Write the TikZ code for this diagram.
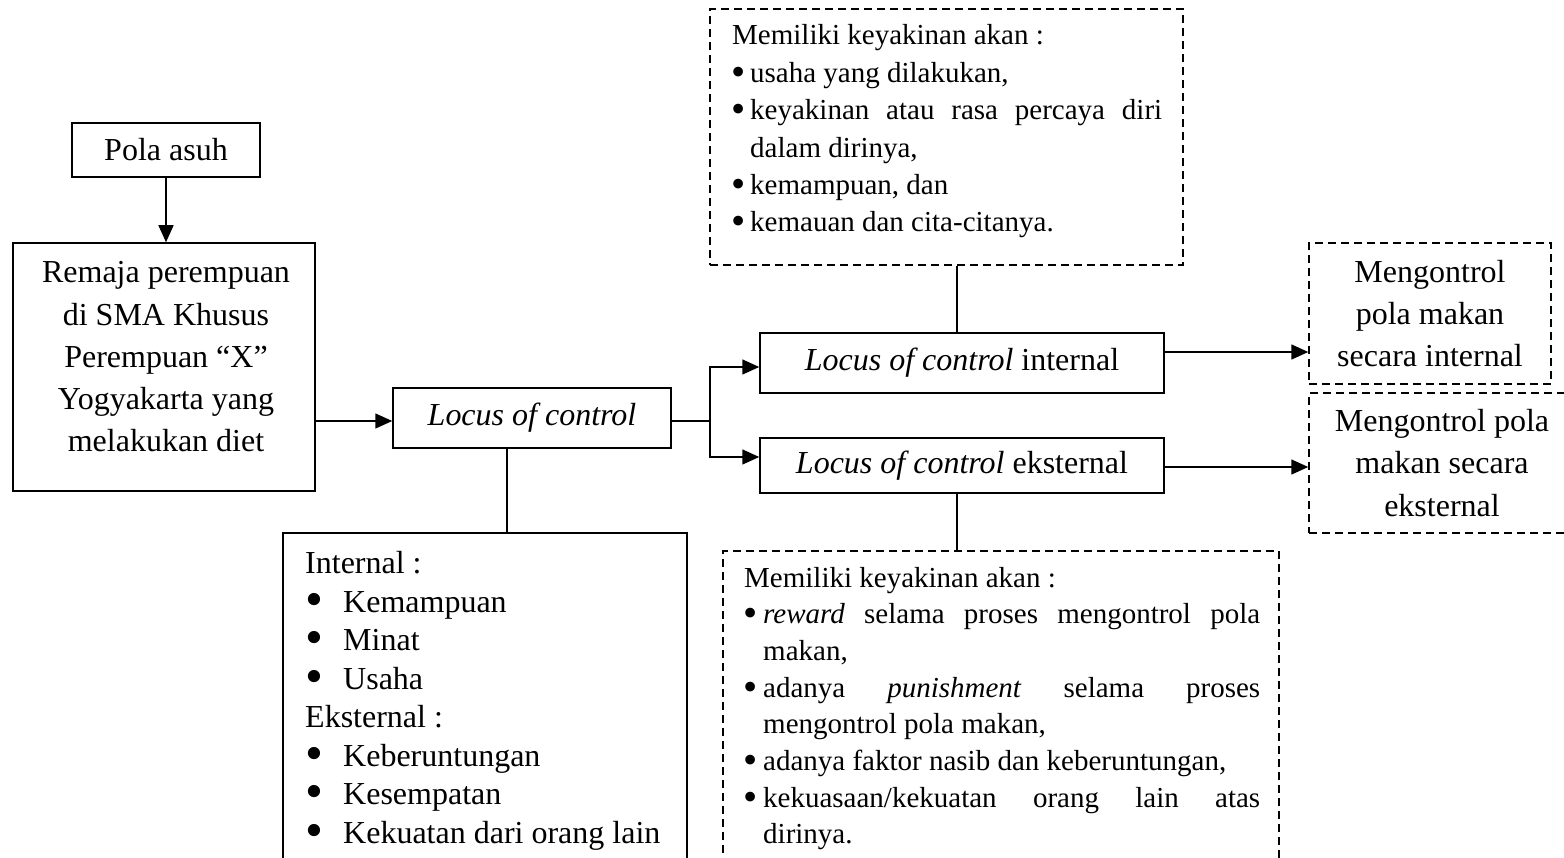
\documentclass[tikz,border=0pt]{standalone}
\usepackage{fontspec}
\setmainfont{Liberation Serif}
\usetikzlibrary{arrows.meta}
\newcommand\fsmain{\fontsize{32}{42.3}\selectfont}
\newcommand\fslist{\fontsize{32}{38.5}\selectfont}
\newcommand\fsdash{\fontsize{29}{37.4}\selectfont\hyphenpenalty=10000 \exhyphenpenalty=10000 }
\newcommand\fsdashb{\fontsize{29}{36.7}\selectfont\hyphenpenalty=10000 \exhyphenpenalty=10000 }
\newcommand\bigbul{\raisebox{-0.14em}{\scalebox{1.6}{\textbullet}}}
\newcommand\midbul{\raisebox{-0.1em}{\scalebox{1.4}{\textbullet}}}
\newcommand\bitem[2]{\par\hangindent=#1\hangafter=1\noindent\hbox to #1{\hskip-0.5pt\midbul\hfil}#2\par}
\newcommand\litem[1]{\makebox[38pt][l]{\bigbul}#1}
\begin{document}
\begin{tikzpicture}[x=1pt,y=-1pt,
  box/.style={draw, line width=1.5pt, inner sep=0pt},
  dbox/.style={draw, line width=1.5pt, dash pattern=on 8pt off 5pt, inner sep=0pt},
  conn/.style={line width=1.5pt},
  arr/.style={line width=1.5pt, -{Triangle[length=17pt,width=15pt]}},
  txt/.style={inner sep=0pt}
  ]
\useasboundingbox (0,0) rectangle (1564,858);
\clip (0,0) rectangle (1564,858);

% left column
\node[box, minimum width=188pt, minimum height=54pt, font=\fsmain] (pola) at (166,150) {Pola asuh};
\node[box, minimum width=302pt, minimum height=248pt] (remaja) at (164,367) {};
\node[txt, font=\fsmain, align=center, anchor=base] (remajatxt) at (166,452)
  {Remaja perempuan\\di SMA Khusus\\Perempuan “X”\\Yogyakarta yang\\melakukan diet};

% locus of control
\node[box, minimum width=278pt, minimum height=60pt, font=\fsmain] (locus) at (532,418) {\textit{Locus of control}};

% left bottom box
\node[box, minimum width=404pt, minimum height=367pt] (leftbox) at (485,716.5) {};
\node[txt, font=\fslist, align=left, anchor=base west] (lefttxt) at (305,843)
  {Internal :\\\litem{Kemampuan}\\\litem{Minat}\\\litem{Usaha}\\Eksternal :\\\litem{Keberuntungan}\\\litem{Kesempatan}\\\litem{Kekuatan dari orang lain}};

% internal / external
\node[box, minimum width=404pt, minimum height=60pt, font=\fsmain] (lci) at (962,363) {\textit{Locus of control} internal};
\node[box, minimum width=404pt, minimum height=55pt, font=\fsmain] (lce) at (962,465.5) {\textit{Locus of control} eksternal};

% top dashed box
\node[dbox, minimum width=473pt, minimum height=256pt] (topd) at (946.5,137) {};
\node[txt, font=\fsdash, text width=430pt, align=justify, anchor=base west] (topdtxt) at (732,45)
  {Memiliki keyakinan akan :%
   \bitem{18pt}{usaha yang dilakukan,}%
   \bitem{18pt}{keyakinan atau rasa percaya diri\linebreak dalam dirinya,}%
   \bitem{18pt}{kemampuan, dan}%
   \bitem{18pt}{kemauan dan cita-citanya.}};

% bottom dashed box
\node[dbox, minimum width=556pt, minimum height=349pt] (botd) at (1001,725.5) {};
\node[txt, font=\fsdashb, text width=516pt, align=justify, anchor=base west] (botdtxt) at (744,587)
  {Memiliki keyakinan akan :%
   \bitem{19pt}{\textit{reward} selama proses mengontrol pola\linebreak makan,}%
   \bitem{19pt}{adanya \textit{punishment} selama proses\linebreak mengontrol pola makan,}%
   \bitem{19pt}{adanya faktor nasib dan keberuntungan,}%
   \bitem{19pt}{kekuasaan/kekuatan orang lain atas\linebreak dirinya.}};

% right dashed boxes
\node[dbox, minimum width=242pt, minimum height=141pt, font=\fsmain, align=center] (rtop) at (1430,313.5)
  {Mengontrol\\pola makan\\secara internal};
\node[dbox, minimum width=266pt, minimum height=140pt, font=\fsmain, align=center] (rbot) at (1442,463)
  {Mengontrol pola\\makan secara\\eksternal};

% connectors
\coordinate (split) at (710,421);
\draw[arr] (pola.south) -- (pola.south |- remaja.north);
\draw[arr] ([yshift=-3pt]locus.west -| remaja.east) -- ([yshift=-3pt]locus.west);
\draw[conn] ([yshift=-3pt]locus.east) -- (split);
\draw[arr] (split) |- ([yshift=-4pt]lci.west);
\draw[arr] (split) |- ([yshift=8.5pt]lce.west);
\draw[arr] ([yshift=11pt]lci.east) -- ([yshift=11pt]lci.east -| rtop.west);
\draw[arr] ([yshift=-1.5pt]lce.east) -- ([yshift=-1.5pt]lce.east -| rbot.west);
\draw[conn] ([xshift=-5pt]lci.north) -- ([xshift=-5pt]lci.north |- topd.south);
\draw[conn] ([xshift=-5pt]lce.south) -- ([xshift=-5pt]lce.south |- botd.north);
\draw[conn] ([xshift=-25pt]locus.south) -- ([xshift=-25pt]locus.south |- leftbox.north);
\end{tikzpicture}
\end{document}
